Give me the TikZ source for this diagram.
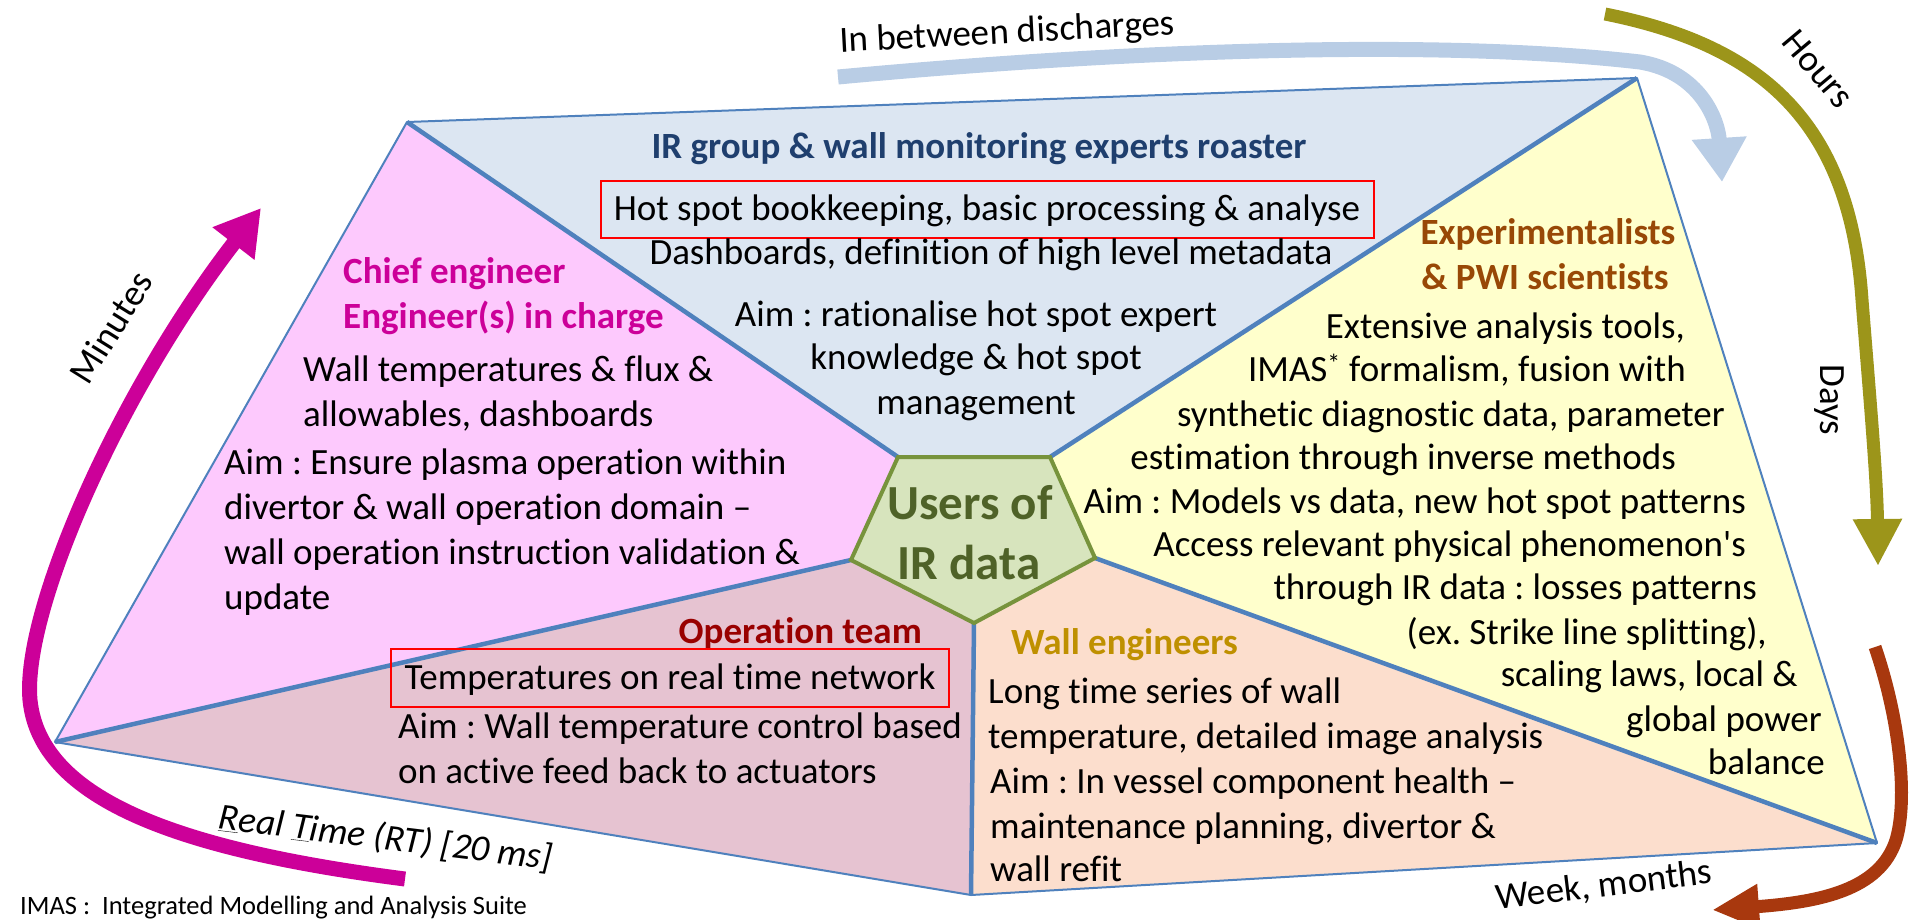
\documentclass[tikz,border=0pt]{standalone}
\usepackage{fontspec}
\setmainfont{Carlito}[Ligatures={TeX,NoCommon}]
\usetikzlibrary{arrows.meta}
\definecolor{topfill}{HTML}{DCE6F2}
\definecolor{leftfill}{HTML}{FDC9FD}
\definecolor{rightfill}{HTML}{FFFFCC}
\definecolor{brfill}{HTML}{FCDECD}
\definecolor{blfill}{HTML}{E6C3D1}
\definecolor{pentfill}{HTML}{D7E4BD}
\definecolor{pentline}{HTML}{77933C}
\definecolor{edgeblue}{HTML}{4F81BD}
\definecolor{irblue}{HTML}{1F3F6E}
\definecolor{chiefmag}{HTML}{CC0099}
\definecolor{expbrown}{HTML}{984806}
\definecolor{opred}{HTML}{990000}
\definecolor{wallgold}{HTML}{BF9000}
\definecolor{usersgreen}{HTML}{4F6228}
\definecolor{arrblue}{HTML}{B9CDE5}
\definecolor{arrolive}{HTML}{9C951A}
\definecolor{arrrust}{HTML}{A8380E}
\definecolor{arrmag}{HTML}{CC0099}
\frenchspacing
\begin{document}
\begin{tikzpicture}[x=1pt,y=-1pt,
  body/.style={font=\fontsize{37}{45}\selectfont, inner sep=0pt, text height=23pt, text depth=0pt},
  head/.style={font=\bfseries\fontsize{37}{45}\selectfont, inner sep=0pt, text height=23pt, text depth=0pt},
  small/.style={font=\fontsize{26.5}{30}\selectfont, inner sep=0pt, text height=17pt, text depth=0pt},
  redbox/.style={draw=red, line width=2pt},
  outeredge/.style={draw=edgeblue, line width=2pt, line join=round},
  divider/.style={draw=edgeblue, line width=4.5pt},
  bandarrow/.style={line width=#1, line cap=butt},
]
\useasboundingbox (0,0) rectangle (1911,919);
% vertices
\coordinate (TL) at (407,122);
\coordinate (TR) at (1637,78);
\coordinate (BR) at (1877,843);
\coordinate (BM) at (971,895);
\coordinate (LV) at (55,742);
\coordinate (PTL) at (898,457);
\coordinate (PTR) at (1050,457);
\coordinate (PR) at (1095,558);
\coordinate (PB) at (974,623);
\coordinate (PL) at (851,560);
% region fills
\fill[topfill] (TL) -- (TR) -- (PTR) -- (PTL) -- cycle;
\fill[rightfill] (TR) -- (BR) -- (PR) -- (PTR) -- cycle;
\fill[brfill] (BR) -- (BM) -- (PB) -- (PR) -- cycle;
\fill[blfill] (BM) -- (LV) -- (PL) -- (PB) -- cycle;
\fill[leftfill] (LV) -- (TL) -- (PTL) -- (PL) -- cycle;
% edges
\path[outeredge] (TL) -- (TR) -- (BR) -- (BM) -- (LV) -- cycle;
\draw[divider] (TL) -- (PTL);
\draw[divider] (TR) -- (PTR);
\draw[divider] (BR) -- (PR);
\draw[divider] (BM) -- (PB);
\draw[divider] (LV) -- (PL);
% pentagon
\filldraw[fill=pentfill, draw=pentline, line width=4pt, line join=miter] (PTL) -- (PTR) -- (PR) -- (PB) -- (PL) -- cycle;
\node[font=\bfseries\fontsize{49}{60}\selectfont, text=usersgreen, inner sep=0pt] (users1) at (970,503) {Users of};
\node[font=\bfseries\fontsize{49}{60}\selectfont, text=usersgreen, inner sep=0pt] (users2) at (969,562) {IR data};

% arrows
\coordinate (bA) at (838,77);
\coordinate (bB) at (1722,182);
\draw[arrblue, bandarrow=15pt, -{Triangle[length=44pt,width=52pt]}] (bA) .. controls (1150,48) and (1450,40) .. (1640,62) .. controls (1700,72) and (1718,120) .. (bB);
\coordinate (oA) at (1605,14);
\coordinate (oB) at (1878,566);
\draw[arrolive, bandarrow=13pt, -{Triangle[length=47pt,width=46pt]}] (oA) .. controls (1760,45) and (1850,120) .. (1862,300) .. controls (1870,400) and (1877,480) .. (oB);
\coordinate (rA) at (1875,647);
\coordinate (rB) at (1712,910);
\draw[arrrust, bandarrow=13pt, -{Triangle[length=47pt,width=42pt]}] (rA) .. controls (1900,720) and (1908,800) .. (1896,840) .. controls (1880,890) and (1820,902) .. (rB);
\coordinate (mA) at (405,879);
\coordinate (mB) at (261,208);
\draw[arrmag, bandarrow=15pt, -{Triangle[length=45pt,width=50pt]}] (mA) .. controls (180,850) and (40,800) .. (30,700) .. controls (22,610) and (120,390) .. (mB);

% arrow labels
\node[body, rotate=3] (lbetween) at (1007,32) {In between discharges};
\node[body, rotate=-50] (lhours) at (1818,69) {Hours};
\node[body, rotate=-90] (ldays) at (1832,400) {Days};
\node[body, rotate=7] (lweek) at (1604,885) {Week, months};
\node[body, rotate=58] (lminutes) at (112,328) {Minutes};
\node[body, rotate=-7, font=\itshape\fontsize{37}{45}\selectfont] (lrt) at (386,838) {\underline{R}eal \underline{T}ime (RT) [20 ms]};
\node[small, anchor=west] (imas) at (20,906) {IMAS :\ \ Integrated Modelling and Analysis Suite};

% top region
\node[head, text=irblue] (irgroup) at (979,147) {IR group \& wall monitoring experts roaster};
\node[body, redbox, minimum width=773pt, minimum height=57pt] (hotspot) at (987,209) {Hot spot bookkeeping, basic processing \& analyse};
\node[body] (dash) at (991,253) {Dashboards, definition of high level metadata};
\node[body] (aimtop1) at (976,315) {Aim : rationalise hot spot expert};
\node[body] (aimtop2) at (976,358) {knowledge \& hot spot};
\node[body] (aimtop3) at (976,403) {management};

% left region
\node[head, text=chiefmag, anchor=west] (chief1) at (343,272) {Chief engineer};
\node[head, text=chiefmag, anchor=west] (chief2) at (343,317) {Engineer(s) in charge};
\node[body, anchor=west] (l1) at (303,370) {Wall temperatures \& flux \&};
\node[body, anchor=west] (l2) at (303,415) {allowables, dashboards};
\node[body, anchor=west] (l3) at (224,463) {Aim : Ensure plasma operation within};
\node[body, anchor=west] (l4) at (224,508) {divertor \& wall operation domain –};
\node[body, anchor=west] (l5) at (224,553) {wall operation instruction validation \&};
\node[body, anchor=west] (l6) at (224,598) {update};

% bottom-left region
\node[head, text=opred, anchor=east] (opteam) at (922,632) {Operation team};
\node[body, redbox, minimum width=558pt, minimum height=58pt] (rtnet) at (670,678) {Temperatures on real time network};
\node[body, anchor=west] (o2) at (398,727) {Aim : Wall temperature control based};
\node[body, anchor=west] (o3) at (398,772) {on active feed back to actuators};

% bottom-right region
\node[head, text=wallgold, anchor=west] (walleng) at (1011,643) {Wall engineers};
\node[body, anchor=west] (w1) at (988,692) {Long time series of wall};
\node[body, anchor=west] (w2) at (988,737) {temperature, detailed image analysis};
\node[body, anchor=west] (w3) at (990,782) {Aim : In vessel component health –};
\node[body, anchor=west] (w4) at (990,827) {maintenance planning, divertor \&};
\node[body, anchor=west] (w5) at (990,870) {wall refit};

% right region
\node[head, text=expbrown] (exp1) at (1548,233) {Experimentalists};
\node[head, text=expbrown] (exp2) at (1545,278) {\& PWI scientists};
\node[body, anchor=east] (r1) at (1685,327) {Extensive analysis tools,};
\node[body, anchor=east] (r2) at (1686,370) {IMAS\textsuperscript{*} formalism, fusion with};
\node[body, anchor=east] (r3) at (1725,415) {synthetic diagnostic data, parameter};
\node[body, anchor=east] (r4) at (1676,458) {estimation through inverse methods};
\node[body, anchor=east] (r5) at (1746,502) {Aim : Models vs data, new hot spot patterns};
\node[body, anchor=east] (r6) at (1746,545) {Access relevant physical phenomenon\textquotesingle s};
\node[body, anchor=east] (r7) at (1757,588) {through IR data : losses patterns};
\node[body, anchor=east] (r8) at (1767,633) {(ex. Strike line splitting),};
\node[body, anchor=east] (r9) at (1798,675) {scaling laws, local \&};
\node[body, anchor=east] (r10) at (1822,720) {global power};
\node[body, anchor=east] (r11) at (1825,763) {balance};
\end{tikzpicture}
\end{document}
